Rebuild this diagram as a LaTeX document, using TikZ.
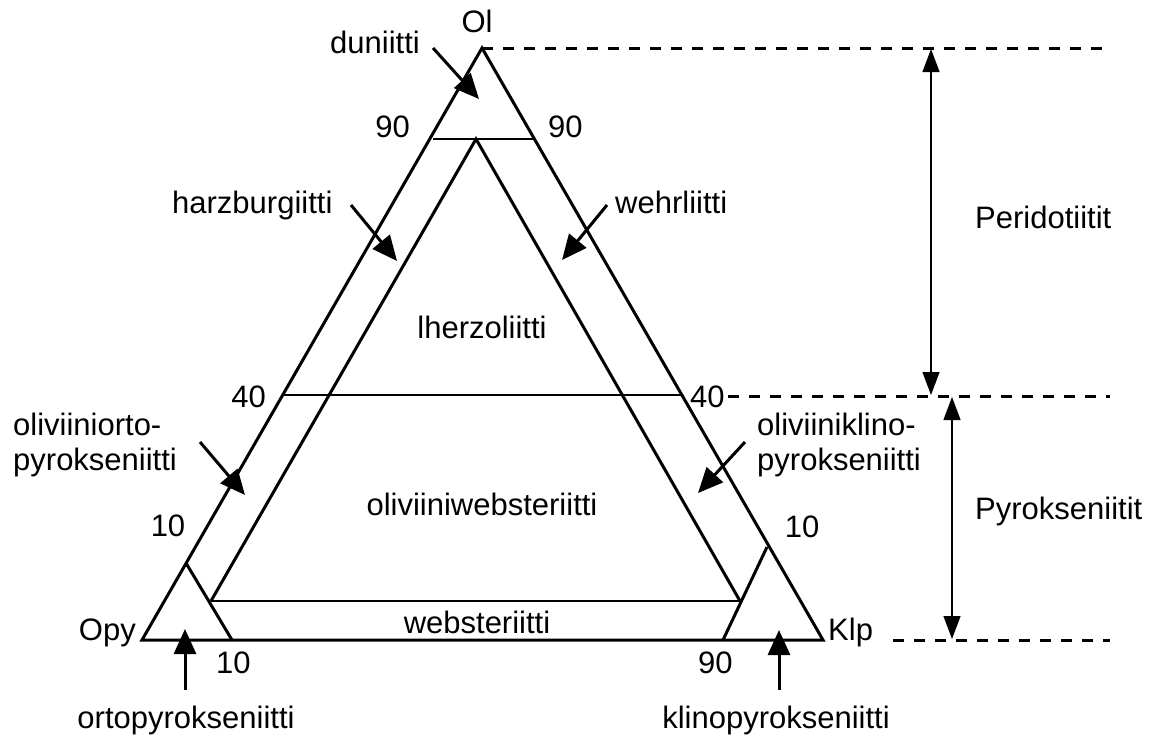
\documentclass[tikz,border=0pt]{standalone}
\usepackage{fontspec}
\setmainfont{Liberation Sans}
\usetikzlibrary{arrows.meta}
\begin{document}
\begin{tikzpicture}[x=1pt,y=-1pt,
  lbl/.style={font=\fontsize{31}{35}\selectfont, inner sep=0pt},
  edge/.style={line width=3pt, line join=miter},
  tie/.style={line width=2.6pt},
  guide/.style={line width=3pt, dash pattern=on 11pt off 10pt},
  pointer/.style={line width=3pt, -{Triangle[length=25pt,width=22pt]}},
  span/.style={line width=1.3pt, {Triangle[length=23pt,width=17pt]}-{Triangle[length=23pt,width=17pt]}},
]
\useasboundingbox (0,0) rectangle (1158,744);

% outer triangle
\coordinate (apex) at (482,48);
\coordinate (cornerL) at (142,640);
\coordinate (cornerR) at (823,640);
\draw[edge] (apex) -- (cornerL) -- (cornerR) -- cycle;

% 90 % olivine line
\coordinate (n90L) at (433,139);
\coordinate (n90R) at (533,139);
\draw[tie] (n90L) -- (n90R);

% 40 % olivine line
\coordinate (n40L) at (283,395);
\coordinate (n40R) at (682,395);
\draw[tie] (n40L) -- (n40R);

% inner triangle
\coordinate (inApex) at (476,139);
\coordinate (inL) at (211,601);
\coordinate (inR) at (740,601);
\draw[edge] (inL) -- (inApex) -- (inR);
\draw[tie] (inL) -- (inR);

% pyroxenite corner lines
\coordinate (cLtop) at (186,563);
\coordinate (cLbot) at (232,640);
\coordinate (cRtop) at (767,547);
\coordinate (cRbot) at (723,640);
\draw[edge] (cLtop) -- (cLbot);
\draw[edge] (cRtop) -- (cRbot);

% dashed guide lines
\coordinate (gTopEnd) at (1110,48);
\coordinate (gMidStart) at (728,396);
\coordinate (gMidEnd) at (1110,396);
\coordinate (gBotStart) at (893,640);
\coordinate (gBotEnd) at (1110,640);
\draw[guide] (apex) -- (gTopEnd);
\draw[guide] (gMidStart) -- (gMidEnd);
\draw[guide] (gBotStart) -- (gBotEnd);

% range arrows
\coordinate (perTop) at (931,49);
\coordinate (perBot) at (931,395);
\coordinate (pyrTop) at (952,397);
\coordinate (pyrBot) at (952,639);
\draw[span] (perTop) -- (perBot);
\draw[span] (pyrTop) -- (pyrBot);
\node[lbl, anchor=base west] (per) at (975,228) {Peridotiitit};
\node[lbl, anchor=base west] (pyr) at (975,519) {Pyrokseniitit};

% corner and scale labels
\node[lbl, anchor=base] (tOl) at (477,32) {Ol};
\node[lbl, anchor=base east] (tOpy) at (136,640) {Opy};
\node[lbl, anchor=base west] (tKlp) at (828,640) {Klp};
\node[lbl, anchor=base east] (s90L) at (410,137) {90};
\node[lbl, anchor=base west] (s90R) at (548,137) {90};
\node[lbl, anchor=base east] (s40L) at (266,407) {40};
\node[lbl, anchor=base west] (s40R) at (690,407) {40};
\node[lbl] (s10L) at (168,526) {10};
\node[lbl] (s10R) at (802,527) {10};
\node[lbl, anchor=base west] (s10B) at (216,673) {10};
\node[lbl, anchor=base west] (s90B) at (698,673) {90};

% field labels
\node[lbl] (lher) at (482,327) {lherzoliitti};
\node[lbl] (olweb) at (482,504) {oliviiniwebsteriitti};
\node[lbl] (web) at (477,622) {websteriitti};

% labels with pointers
\node[lbl, anchor=base west] (dun) at (330,53) {duniitti};
\coordinate (dunS) at (433,48);
\coordinate (dunT) at (479,99);
\draw[pointer] (dunS) -- (dunT);

\node[lbl, anchor=base west] (harz) at (172,213) {harzburgiitti};
\coordinate (harzS) at (351,205);
\coordinate (harzT) at (397,261);
\draw[pointer] (harzS) -- (harzT);

\node[lbl, anchor=base west] (wehr) at (615,213) {wehrliitti};
\coordinate (wehrS) at (607,205);
\coordinate (wehrT) at (562,260);
\draw[pointer] (wehrS) -- (wehrT);

% two-line labels: the base anchor sits on the last line
\node[lbl, anchor=base west, align=left] (olort) at (13,470) {oliviiniorto-\\pyrokseniitti};
\coordinate (olortS) at (200,442);
\coordinate (olortT) at (245,495);
\draw[pointer] (olortS) -- (olortT);

\node[lbl, anchor=base west, align=left] (olkli) at (757,470) {oliviiniklino-\\pyrokseniitti};
\coordinate (olkliS) at (745,442);
\coordinate (olkliT) at (698,493);
\draw[pointer] (olkliS) -- (olkliT);

\node[lbl] (orto) at (186,720) {ortopyrokseniitti};
\coordinate (ortoS) at (185,690);
\coordinate (ortoT) at (185,629);
\draw[pointer] (ortoS) -- (ortoT);

\node[lbl] (klino) at (776,720) {klinopyrokseniitti};
\coordinate (klinoS) at (779,690);
\coordinate (klinoT) at (779,630);
\draw[pointer] (klinoS) -- (klinoT);
\end{tikzpicture}
\end{document}
